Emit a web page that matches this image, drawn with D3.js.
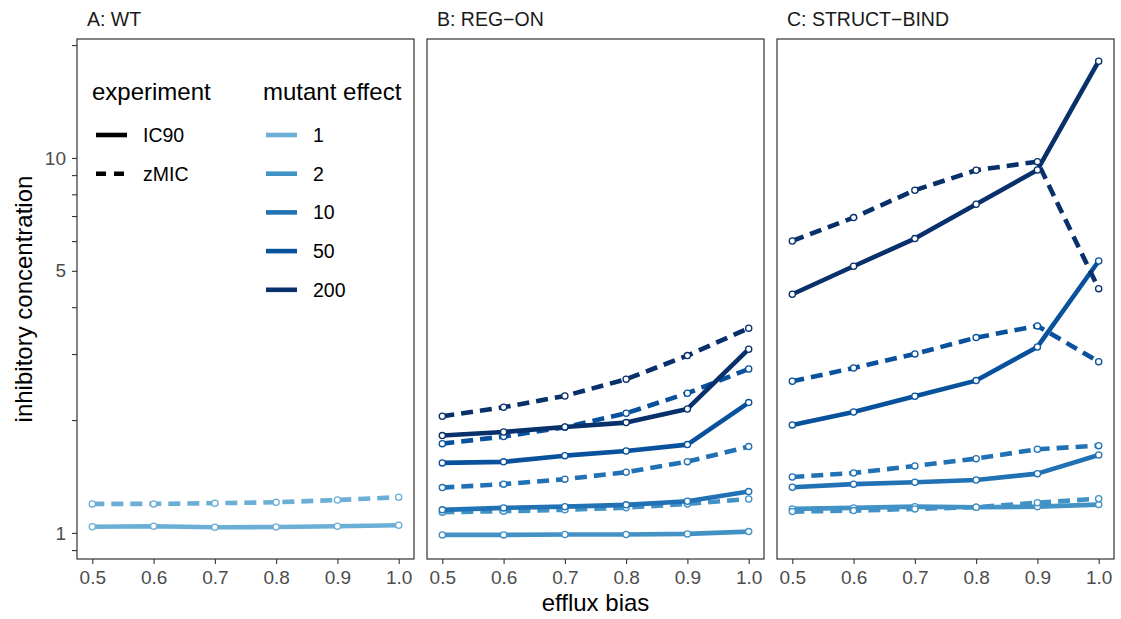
<!DOCTYPE html>
<html>
<head>
<meta charset="utf-8">
<script src="https://cdn.jsdelivr.net/npm/d3@7"></script>
<style>
  html, body { margin: 0; padding: 0; background: #fff; }
  svg text { font-family: "Liberation Sans", Arial, Helvetica, sans-serif; }
</style>
</head>
<body>
<svg id="chart" width="1121" height="619"></svg>
<script>
// ---------------- data ----------------
const xValues = [0.5, 0.6, 0.7, 0.8, 0.9, 1.0];
const xTickLabels = ["0.5", "0.6", "0.7", "0.8", "0.9", "1.0"];
const panelTitles = ["A: WT", "B: REG\u2212ON", "C: STRUCT\u2212BIND"];
const mutantEffects = ["1", "2", "10", "50", "200"];
const effectColors = ["#6BAED6", "#4292C6", "#2171B5", "#08519C", "#08306B"];
const experiments = ["IC90", "zMIC"];
const yTicks = [0.9, 1, 2, 3, 4, 5, 6, 7, 8, 9, 10, 20];
const yTickLabels = { 1: "1", 5: "5", 10: "10" };

// Panel A: WT (mutant effect 1)
const wtIC90_1 = [1.039, 1.042, 1.035, 1.037, 1.042, 1.048];
const wtZMIC_1 = [1.195, 1.195, 1.200, 1.207, 1.224, 1.245];

// Panel B: REG-ON
const regIC90_2   = [0.988, 0.988, 0.990, 0.990, 0.994, 1.008];
const regZMIC_2   = [1.136, 1.143, 1.152, 1.168, 1.195, 1.232];
const regIC90_10  = [1.152, 1.166, 1.175, 1.188, 1.215, 1.289];
const regZMIC_10  = [1.321, 1.349, 1.391, 1.452, 1.549, 1.699];
const regIC90_50  = [1.537, 1.547, 1.607, 1.654, 1.720, 2.226];
const regZMIC_50  = [1.730, 1.807, 1.914, 2.085, 2.358, 2.737];
const regIC90_200 = [1.818, 1.859, 1.917, 1.969, 2.141, 3.090];
const regZMIC_200 = [2.047, 2.164, 2.319, 2.570, 2.971, 3.515];

// Panel C: STRUCT-BIND
const sbIC90_2   = [1.159, 1.166, 1.175, 1.171, 1.175, 1.190];
const sbZMIC_2   = [1.140, 1.147, 1.159, 1.171, 1.204, 1.234];
const sbIC90_10  = [1.324, 1.349, 1.365, 1.384, 1.439, 1.614];
const sbZMIC_10  = [1.410, 1.445, 1.509, 1.578, 1.672, 1.709];
const sbIC90_50  = [1.941, 2.102, 2.315, 2.548, 3.133, 5.312];
const sbZMIC_50  = [2.539, 2.754, 3.002, 3.318, 3.565, 2.862];
const sbIC90_200 = [4.330, 5.142, 6.094, 7.524, 9.290, 18.11];
const sbZMIC_200 = [6.007, 6.932, 8.202, 9.273, 9.775, 4.482];

const seriesList = [
  { panel: 0, effect: "1",   exp: "IC90", values: wtIC90_1 },
  { panel: 0, effect: "1",   exp: "zMIC", values: wtZMIC_1 },
  { panel: 1, effect: "2",   exp: "IC90", values: regIC90_2 },
  { panel: 1, effect: "2",   exp: "zMIC", values: regZMIC_2 },
  { panel: 1, effect: "10",  exp: "IC90", values: regIC90_10 },
  { panel: 1, effect: "10",  exp: "zMIC", values: regZMIC_10 },
  { panel: 1, effect: "50",  exp: "IC90", values: regIC90_50 },
  { panel: 1, effect: "50",  exp: "zMIC", values: regZMIC_50 },
  { panel: 1, effect: "200", exp: "IC90", values: regIC90_200 },
  { panel: 1, effect: "200", exp: "zMIC", values: regZMIC_200 },
  { panel: 2, effect: "2",   exp: "IC90", values: sbIC90_2 },
  { panel: 2, effect: "2",   exp: "zMIC", values: sbZMIC_2 },
  { panel: 2, effect: "10",  exp: "IC90", values: sbIC90_10 },
  { panel: 2, effect: "10",  exp: "zMIC", values: sbZMIC_10 },
  { panel: 2, effect: "50",  exp: "IC90", values: sbIC90_50 },
  { panel: 2, effect: "50",  exp: "zMIC", values: sbZMIC_50 },
  { panel: 2, effect: "200", exp: "IC90", values: sbIC90_200 },
  { panel: 2, effect: "200", exp: "zMIC", values: sbZMIC_200 }
];

// ---------------- layout ----------------
const svg = d3.select("#chart");
const panelLefts = [77, 427, 777];
const panelW = 337;
const panelTop = 39, panelBottom = 559;
const dashPattern = "12,7";
const lineW = 4.6;

const color = d3.scaleOrdinal().domain(mutantEffects).range(effectColors);
const y = d3.scaleLog().domain([0.852, 20.76]).range([panelBottom, panelTop]);

panelTitles.forEach((title, p) => {
  const x0 = panelLefts[p];
  const x = d3.scaleLinear().domain([0.475, 1.025]).range([x0, x0 + panelW]);
  const g = svg.append("g");

  // strip title
  g.append("text").attr("x", x0 + 10).attr("y", 26)
    .attr("font-size", 19.5).attr("fill", "#1A1A1A").text(title);

  // x axis
  const xAxis = d3.axisBottom(x).tickValues(xValues)
    .tickFormat((d, i) => xTickLabels[i]).tickSize(5).tickPadding(4);
  const xg = g.append("g").attr("transform", `translate(0,${panelBottom})`).call(xAxis);
  xg.select(".domain").remove();
  xg.selectAll(".tick line").attr("stroke", "#333333").attr("stroke-width", 1.1);
  xg.selectAll(".tick text").attr("font-size", 19).attr("fill", "#4D4D4D")
    .attr("dy", "0.72em").attr("y", 11)
    .style("font-family", '"Liberation Sans", Arial, Helvetica, sans-serif');

  if (p === 0) {
    const yAxis = d3.axisLeft(y).tickValues(yTicks)
      .tickFormat(d => yTickLabels[d] || "").tickSize(5).tickPadding(4);
    const yg = g.append("g").attr("transform", `translate(${x0},0)`).call(yAxis);
    yg.select(".domain").remove();
    yg.selectAll(".tick line").attr("stroke", "#333333").attr("stroke-width", 1.1);
    yg.selectAll(".tick text").attr("font-size", 19).attr("fill", "#4D4D4D")
      .attr("x", -11)
      .style("font-family", '"Liberation Sans", Arial, Helvetica, sans-serif');
  }

  // clip
  const clipId = "clip" + p;
  svg.append("clipPath").attr("id", clipId).append("rect")
    .attr("x", x0).attr("y", panelTop).attr("width", panelW).attr("height", panelBottom - panelTop);

  const dataG = g.append("g").attr("clip-path", `url(#${clipId})`);
  const panelSeries = seriesList.filter(s => s.panel === p);
  const line = d3.line().x((d, i) => x(xValues[i])).y(d => y(d));

  dataG.selectAll("path.series").data(panelSeries).join("path")
    .attr("class", "series")
    .attr("d", s => line(s.values))
    .attr("fill", "none")
    .attr("stroke", s => color(s.effect))
    .attr("stroke-width", lineW)
    .attr("stroke-linejoin", "round")
    .attr("stroke-dasharray", s => s.exp === "zMIC" ? dashPattern : null);

  panelSeries.forEach(s => {
    dataG.selectAll(null).data(s.values).join("circle")
      .attr("cx", (d, i) => x(xValues[i]))
      .attr("cy", d => y(d))
      .attr("r", 3.1)
      .attr("fill", "#fff")
      .attr("stroke", color(s.effect))
      .attr("stroke-width", 1.3);
  });

  // border
  g.append("rect").attr("x", x0).attr("y", panelTop)
    .attr("width", panelW).attr("height", panelBottom - panelTop)
    .attr("fill", "none").attr("stroke", "#333333").attr("stroke-width", 1.2);
});

// axis titles
svg.append("text").attr("x", 595.5).attr("y", 611).attr("text-anchor", "middle")
  .attr("font-size", 24).attr("fill", "#000").text("efflux bias");
svg.append("text").attr("transform", "translate(32,299) rotate(-90)")
  .attr("text-anchor", "middle").attr("font-size", 24).attr("fill", "#000")
  .text("inhibitory concentration");

// ---------------- legends ----------------
const leg = svg.append("g");
const rowY0 = 135, rowStep = 38.7;

leg.append("text").attr("x", 92).attr("y", 100).attr("font-size", 24).text("experiment");
experiments.forEach((e, i) => {
  const yy = rowY0 + i * rowStep;
  leg.append("line").attr("x1", 96).attr("x2", 127).attr("y1", yy).attr("y2", yy)
    .attr("stroke", "#000").attr("stroke-width", lineW)
    .attr("stroke-dasharray", e === "zMIC" ? "10,8" : null);
  leg.append("text").attr("x", 143).attr("y", yy + 7).attr("font-size", 19.5).text(e);
});

leg.append("text").attr("x", 263).attr("y", 100).attr("font-size", 24).text("mutant effect");
mutantEffects.forEach((m, i) => {
  const yy = rowY0 + i * rowStep;
  leg.append("line").attr("x1", 266).attr("x2", 297).attr("y1", yy).attr("y2", yy)
    .attr("stroke", color(m)).attr("stroke-width", lineW);
  leg.append("text").attr("x", 313).attr("y", yy + 7).attr("font-size", 19.5).text(m);
});
</script>
</body>
</html>
